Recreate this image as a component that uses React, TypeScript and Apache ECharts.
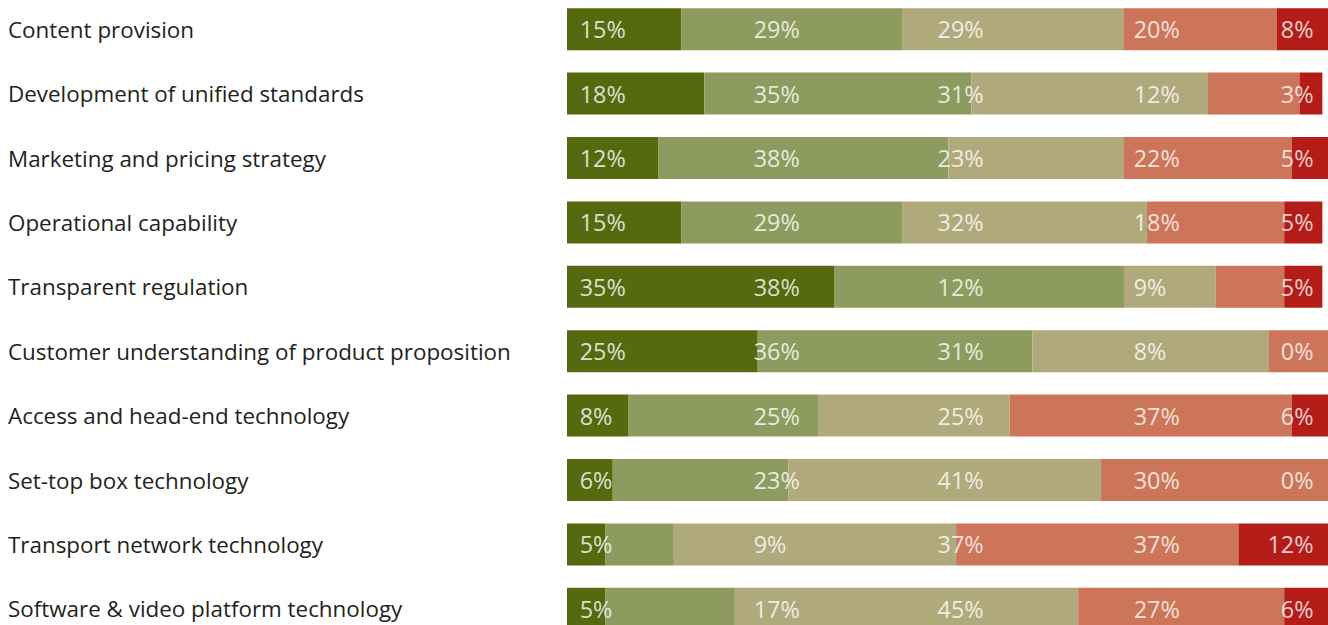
import React, { useEffect, useRef } from "react";
import * as echarts from "echarts";

const categories = [
  "Content provision",
  "Development of unified standards",
  "Marketing and pricing strategy",
  "Operational capability",
  "Transparent regulation",
  "Customer understanding of product proposition",
  "Access and head-end technology",
  "Set-top box technology",
  "Transport network technology",
  "Software & video platform technology",
];
const rank1 = [15, 18, 12, 15, 35, 25, 8, 6, 5, 5];
const rank2 = [29, 35, 38, 29, 38, 36, 25, 23, 9, 17];
const rank3 = [29, 31, 23, 32, 12, 31, 25, 41, 37, 45];
const rank4 = [20, 12, 22, 18, 9, 8, 37, 30, 37, 27];
const rank5 = [8, 3, 5, 5, 5, 0, 6, 0, 12, 6];
const seriesNames = ["Rank 1", "Rank 2", "Rank 3", "Rank 4", "Rank 5"];

const allValues = [rank1, rank2, rank3, rank4, rank5];
const colors = ["#556a0f", "#8e9b5e", "#b0a97c", "#cd7558", "#b41c18"];

export default function App() {
  const ref = useRef<HTMLDivElement>(null);
  useEffect(() => {
    if (!ref.current) return;
    const chart = echarts.init(ref.current, undefined, { renderer: "svg" });
    // label columns (axis units) and alignment
    const labelCols = [1.6, 24.4, 48.5, 74.2, 97.9];
    const labelPos = ["right", "right", "right", "right", "left"];
    const bars = allValues.map((vals, k) => ({
      name: seriesNames[k],
      type: "bar",
      stack: "total",
      barWidth: 42,
      data: vals,
      itemStyle: { color: colors[k] },
      label: { show: false },
      emphasis: { disabled: true },
    }));
    const labels = allValues.map((vals, k) => ({
      name: seriesNames[k] + " label",
      type: "scatter",
      z: 10,
      symbolSize: 1,
      itemStyle: { color: "rgba(0,0,0,0)" },
      data: categories.map((c) => [labelCols[k], c]),
      label: {
        show: true,
        position: labelPos[k],
        distance: 0,
        color: "#ffffff",
        fontSize: 23.4,
        fontFamily: "Open Sans",
        formatter: (p: any) => `${vals[p.dataIndex]}%`,
      },
      emphasis: { disabled: true },
      silent: true,
    }));
    chart.setOption({
      animation: false,
      backgroundColor: "#ffffff",
      grid: { left: 567, right: 10, top: 1, bottom: 15 },
      xAxis: { type: "value", min: 0, max: 100, show: false },
      yAxis: {
        type: "category",
        data: categories,
        inverse: true,
        axisLine: { show: false },
        axisTick: { show: false },
        splitLine: { show: false },
        axisLabel: {
          margin: 559,
          align: "left",
          fontSize: 22.4,
          color: "#231f20",
          fontFamily: "Open Sans",
        },
      },
      series: [...bars, ...labels],
    });
    return () => chart.dispose();
  }, []);
  return (
    <div
      ref={ref}
      style={{ position: "fixed", left: 0, top: -4, width: 1340, height: 660, background: "#fff" }}
    />
  );
}
